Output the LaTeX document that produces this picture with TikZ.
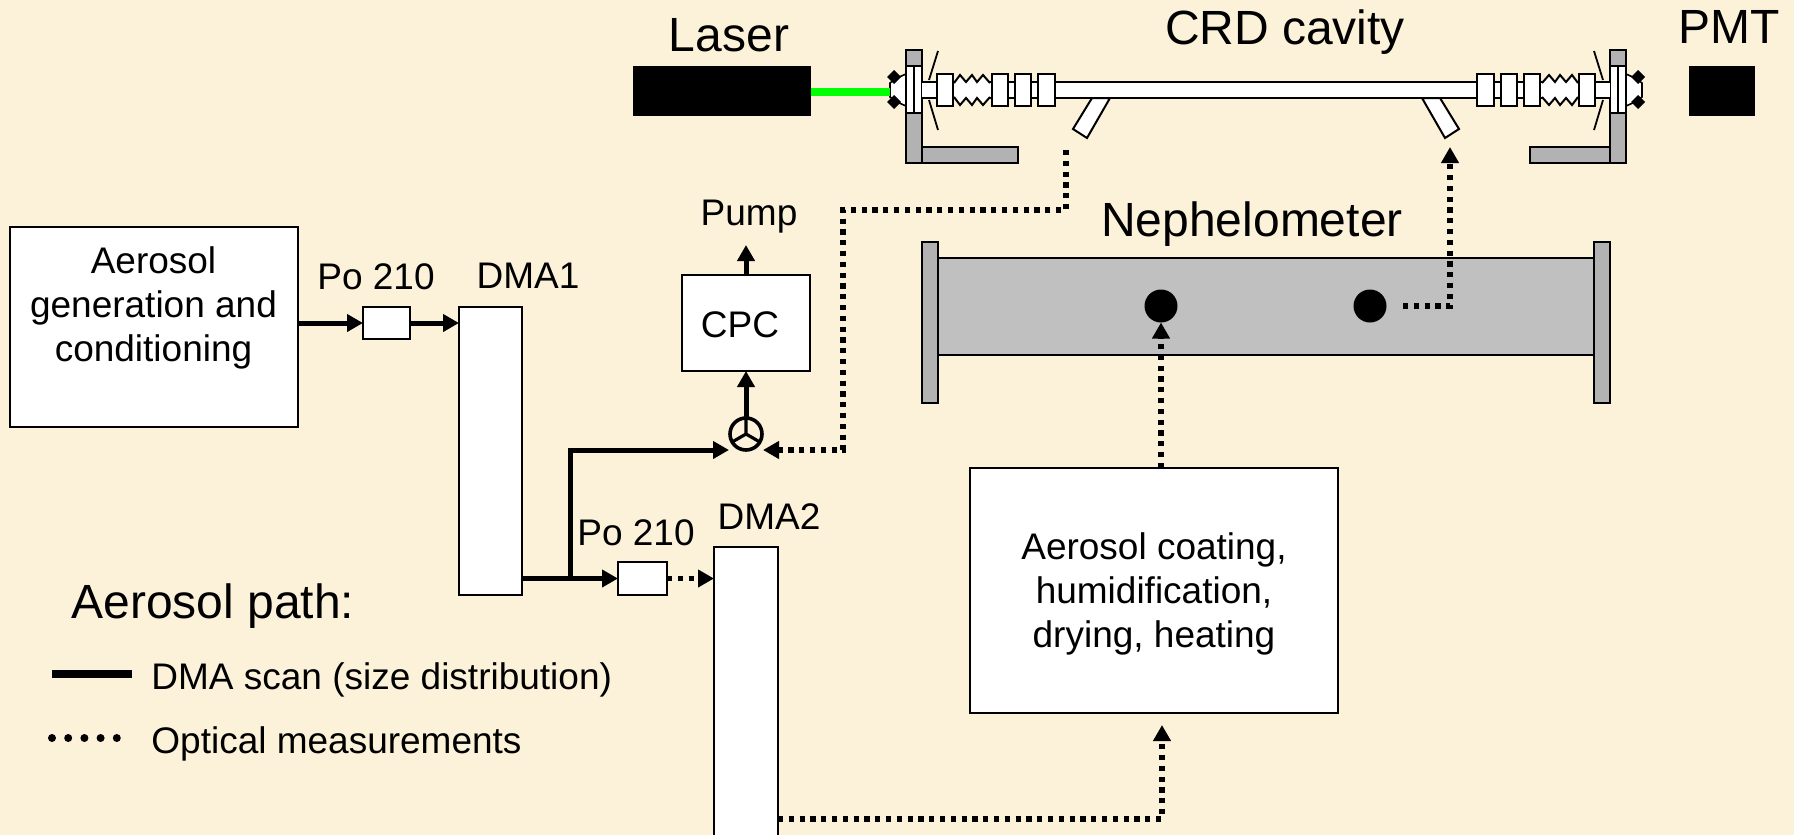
\documentclass[tikz,border=0pt]{standalone}
\usepackage{fontspec}
\setmainfont{Liberation Sans}
\usepackage{xcolor}
\usetikzlibrary{arrows.meta}
\definecolor{bg}{HTML}{FCF2D9}
\definecolor{mount}{HTML}{B2B2B2}
\definecolor{neph}{HTML}{C0C0C0}
\definecolor{beam}{HTML}{00FF00}
\tikzset{
  lab/.style={text=black, font=\fontsize{18.5}{22}\selectfont, align=center, inner sep=0pt},
  labbig/.style={text=black, font=\fontsize{24}{28}\selectfont, inner sep=0pt},
  wbox/.style={draw=black, fill=white, line width=1pt, outer sep=0pt, inner sep=0pt},
  part/.style={draw=black, fill=white, line width=1pt},
  mnt/.style={draw=black, fill=mount, line width=1pt},
  blk/.style={fill=black, outer sep=0pt, inner sep=0pt},
  scan/.style={draw=black, line width=2.5pt},
  optic/.style={draw=black, line width=2.6pt, dash pattern=on 2.6pt off 2.8pt},
  legdot/.style={draw=black, line width=4pt, line cap=round, dash pattern=on 0pt off 8.1pt},
  tip/.style={-{Triangle[length=8pt,width=8.5pt]}},
}
\begin{document}
\begin{tikzpicture}[x=0.5pt,y=-0.5pt]
  \useasboundingbox (0,0) rectangle (1794,835);
  \clip (0,0) rectangle (1794,835);
  \fill[bg] (0,0) rectangle (1794,835);

  % cavity, right half is the left one mirrored
  \foreach \s in {1,-1} {
    \begin{scope}[shift={(1266,0)},xscale=\s,shift={(-1266,0)}]
      \draw[black,line width=0.9pt] (938,51)--(929,80) (929,100)--(938,130);
      \draw[part] (1092,98)--(1073,129)--(1087,138)--(1110,98)--cycle;
      \draw[mnt] (906,50) rectangle (922,163);
      \draw[part,line width=0.8pt] (906,74)--(897,78)--(890,83)--(890,97)--(897,102)--(906,106)--cycle;
      \fill[black] (894,70)--(901,77)--(894,84)--(887,77)--cycle;
      \fill[black] (894,95)--(901,102)--(894,109)--(887,102)--cycle;
      \draw[part] (906,66) rectangle (914,113);
      \draw[part] (914,66) rectangle (922,113);
      \fill[white] (922,82) rectangle (1266,98);
      \draw[black,line width=1pt] (922,82)--(1266,82) (922,98)--(1266,98);
      \fill[white] (954,83)--(960,75)--(966,82)--(972,75)--(977,82)--(983,75)--(990,83)
        --(990,97)--(983,105)--(977,98)--(972,105)--(966,98)--(960,105)--(954,97)--cycle;
      \draw[black,line width=1pt] (954,83)--(960,75)--(966,82)--(972,75)--(977,82)--(983,75)--(990,83);
      \draw[black,line width=1pt] (954,97)--(960,105)--(966,98)--(972,105)--(977,98)--(983,105)--(990,97);
      \foreach \xa/\xb in {937/953,992/1008,1015/1031,1038/1055} {
        \draw[part] (\xa,74) rectangle (\xb,106);
      }
    \end{scope}
  }
  \draw[mnt] (922,147) rectangle (1018,163);
  \draw[mnt] (1530,147) rectangle (1610,163);

  \node[blk,minimum width=89pt,minimum height=25pt] (laser) at (722,91) {};
  \node[blk,minimum width=33pt,minimum height=25pt] (pmt) at (1722,91) {};
  \coordinate (cavin) at (890,92);
  \draw[beam,line width=4pt] (laser.east |- cavin) -- (cavin);
  \node[labbig] (laserlab) at (729,35) {Laser};
  \node[labbig] (crdlab) at (1285,32) {CRD cavity};
  \node[labbig] (pmtlab) at (1729,27) {PMT};

  % nephelometer
  \node[mnt,minimum width=8pt,minimum height=80.5pt,outer sep=0pt] (nephl) at (930,322.5) {};
  \node[mnt,minimum width=8pt,minimum height=80.5pt,outer sep=0pt] (nephr) at (1602,322.5) {};
  \node[draw=black,fill=neph,line width=1pt,minimum width=328pt,minimum height=48.5pt,outer sep=0pt] (neph) at (1266,306.5) {};
  \node[blk,circle,minimum size=16.5pt] (dota) at (1161,306) {};
  \node[blk,circle,minimum size=16.5pt] (dotb) at (1370,306) {};
  \node[labbig] (nephlab) at (1252,224) {Nephelometer};

  % boxes
  \node[wbox,minimum width=144pt,minimum height=100pt] (gen) at (154,327) {};
  \node[lab] (genlab) at (153.5,308) {Aerosol\\generation and\\conditioning};
  \node[wbox,minimum width=23.5pt,minimum height=16pt] (poa) at (386.5,323) {};
  \node[wbox,minimum width=31.5pt,minimum height=144pt] (dmaa) at (490.5,451) {};
  \node[wbox,minimum width=24.5pt,minimum height=16.5pt] (pob) at (642.5,578.5) {};
  \node[wbox,minimum width=32pt,minimum height=150pt] (dmab) at (746,697) {};
  \node[wbox,minimum width=64pt,minimum height=48pt] (cpc) at (746,323) {};
  \node[lab] (cpclab) at (740,325) {CPC};
  \node[wbox,minimum width=184pt,minimum height=122.5pt] (coat) at (1154,590.5) {};
  \node[lab] (coatlab) at (1154,593.5) {Aerosol coating,\\humidification,\\drying, heating};
  \node[draw=black,line width=1.8pt,circle,minimum size=16pt,inner sep=0pt,outer sep=0pt] (valve) at (746,434) {};
  \draw[black,line width=1.6pt] (valve.center)--(valve.90) (valve.center)--(valve.210) (valve.center)--(valve.330);

  \node[lab] (poalab) at (376,277) {Po 210};
  \node[lab] (poblab) at (636,533) {Po 210};
  \node[lab] (dmaalab) at (528,276) {DMA1};
  \node[lab] (dmablab) at (769,517) {DMA2};
  \node[lab] (pumplab) at (749,217) {Pump};

  \coordinate (pump) at (746,245);
  \coordinate (split) at (570,578);
  \coordinate (corner) at (570,450);
  \coordinate (valvel) at (729,450);
  \coordinate (valver) at (763,450);
  \coordinate (crdout) at (1066,150);
  \coordinate (crdin) at (1450,147);
  \coordinate (coatin) at (1162,725);
  \coordinate (dmaout) at (778,819);
  \coordinate (dotout) at (1403,306);

  % solid paths
  \draw[scan,tip] (gen.east |- poa) -- (poa);
  \draw[scan,tip] (poa) -- (poa -| dmaa.west);
  \draw[scan,tip] (dmaa.east |- pob) -- (pob);
  \draw[scan,tip] (split) -- (corner) -- (valvel);
  \draw[scan,tip] (valve) -- (cpc);
  \draw[scan,tip] (cpc) -- (pump);

  % dotted paths
  \draw[optic,tip] (pob.east) -- (pob -| dmab.west);
  \draw[optic,tip] (crdout) -- (1066,210) -- (843,210) -- (843,450) -- (valver);
  \draw[optic,tip] (dotout) -- (1450,306) -- (crdin);
  \draw[optic,tip] (coat.north -| dota) -- (dota.south);
  \draw[optic,tip] (dmaout) -- (1162,819) -- (coatin);

  % legend
  \coordinate (leg1a) at (52,674);
  \coordinate (leg1b) at (132,674);
  \coordinate (leg2a) at (52,738);
  \coordinate (leg2b) at (118,738);
  \draw[scan,line width=4.3pt] (leg1a) -- (leg1b);
  \draw[legdot] (leg2a) -- (leg2b);
  \node[labbig,anchor=west] (pathlab) at (71,606.5) {Aerosol path:};
  \node[lab,anchor=west] (scanlab) at (151,680) {DMA scan (size distribution)};
  \node[lab,anchor=west] (opticlab) at (151,743.5) {Optical measurements};
\end{tikzpicture}
\end{document}
